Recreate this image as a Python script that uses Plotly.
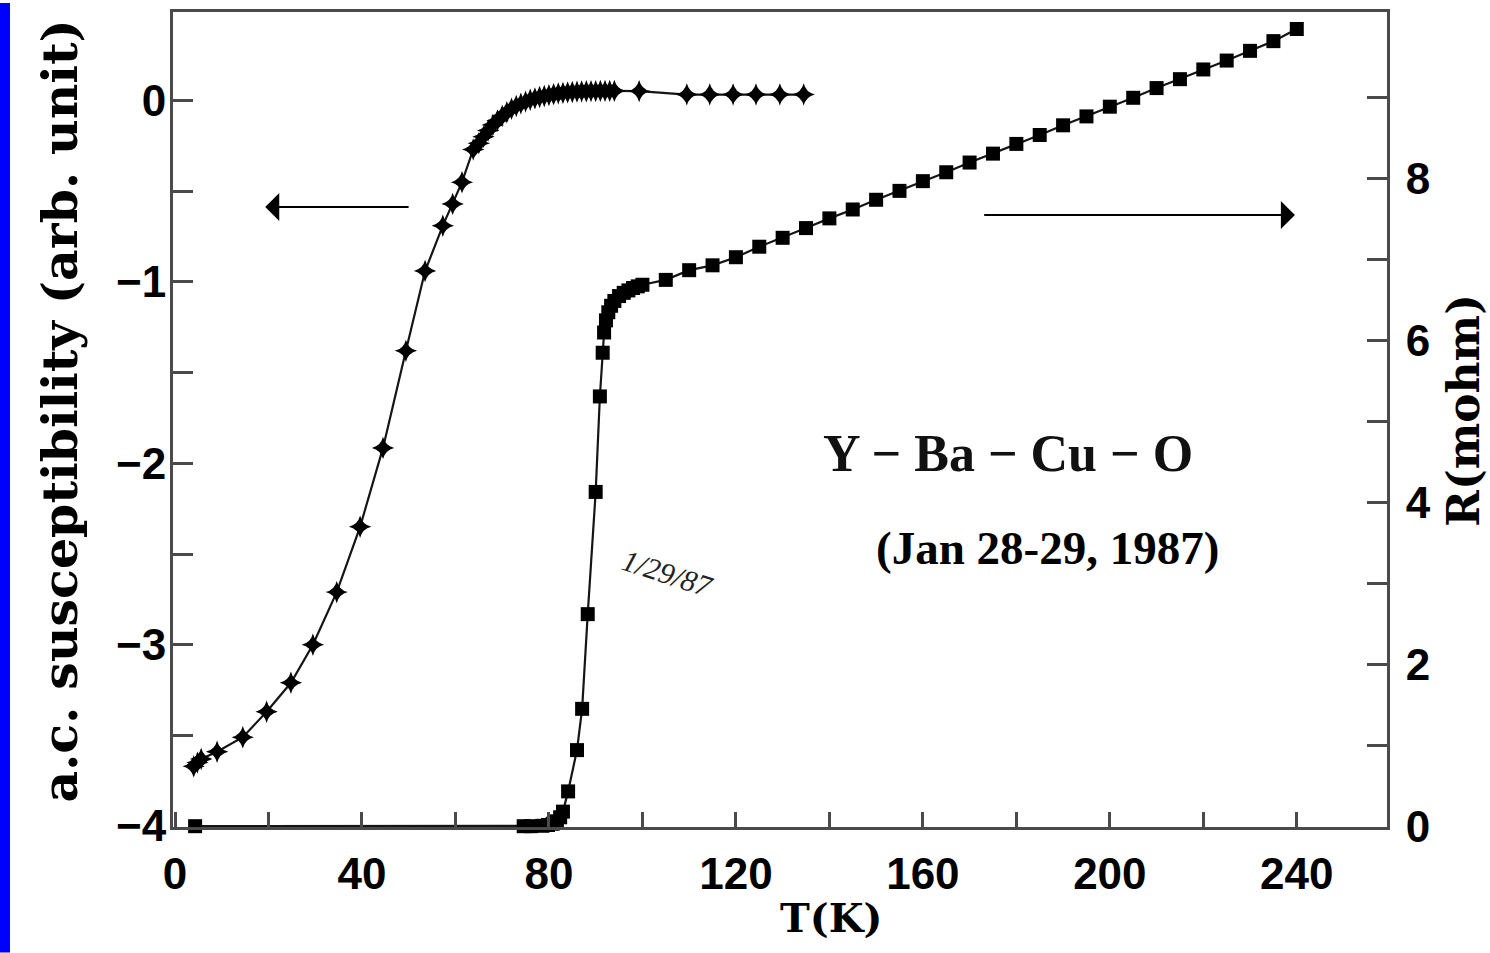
import plotly.graph_objects as go

# ---------------- data ----------------
# a.c. susceptibility (left axis), T in K
chi_T = [4.0, 4.8, 5.6, 9.0, 14.5, 19.6, 24.8, 29.5, 34.6, 39.6, 44.5, 49.4,
         53.5, 57.3, 59.4, 61.4, 63.8,
         65, 66, 67, 68, 69, 70, 71, 72, 73, 74, 75, 76, 77, 78, 79, 80,
         81, 82, 83, 84, 85, 86, 87, 88, 89, 90, 91, 92, 93, 94,
         99.3, 109.5, 114.4, 119.4, 124.3, 129.4, 134.5]
chi = [-3.67, -3.65, -3.63, -3.59, -3.51, -3.37, -3.21, -3.00, -2.71, -2.35, -1.915, -1.38,
       -0.94, -0.69, -0.57, -0.45, -0.27,
       -0.235, -0.20, -0.165, -0.135, -0.11, -0.085, -0.065, -0.045, -0.03, -0.017, -0.006, 0.004,
       0.012, 0.019, 0.025, 0.030,
       0.035, 0.039, 0.042, 0.045, 0.047, 0.049, 0.050, 0.051, 0.052, 0.052, 0.053, 0.053, 0.053, 0.053,
       0.052, 0.033, 0.033, 0.033, 0.033, 0.033, 0.033]

# resistance (right axis), T in K
res_T = [4.3, 74.6, 76.2, 78.6, 79.8, 80.8, 81.7, 82.4, 83.0, 84.1, 86.0, 87.1, 88.3,
         90.0, 90.9, 91.5, 91.8, 92.2, 92.7, 93.3, 94, 95, 96, 97, 98, 99, 100,
         105, 110, 115, 120, 125, 130, 135, 140, 145, 150, 155, 160, 165, 170,
         175, 180, 185, 190, 195, 200, 205, 210, 215, 220, 225, 230, 235, 240]
res = [0.0, 0.0, 0.0, 0.005, 0.015, 0.03, 0.06, 0.11, 0.18, 0.43, 0.94, 1.45, 2.62,
       4.13, 5.31, 5.85, 6.10, 6.25, 6.35, 6.43, 6.49, 6.55, 6.59, 6.62, 6.65, 6.67, 6.69,
       6.75, 6.87, 6.93, 7.03, 7.16, 7.27, 7.39, 7.51, 7.62, 7.74, 7.85, 7.97, 8.08, 8.20,
       8.31, 8.43, 8.54, 8.66, 8.77, 8.89, 9.00, 9.12, 9.23, 9.35, 9.46, 9.58, 9.70, 9.85]

x_ticks = [0, 40, 80, 120, 160, 200, 240]
x_minor = [20, 60, 100, 140, 180, 220]
yl_ticks = [-4, -3, -2, -1, 0]
yl_minor = [-3.5, -2.5, -1.5, -0.5]
yr_ticks = [0, 2, 4, 6, 8]
yr_minor = [1, 3, 5, 7, 9]

# ---------------- figure ----------------
AX = "#4a4a4a"
tickfont = dict(family="Liberation Sans", size=44, color="black", weight="bold")

fig = go.Figure()
fig.add_trace(go.Scatter(
    x=chi_T, y=chi, mode="lines+markers", yaxis="y", cliponaxis=False,
    line=dict(color="#151515", width=2.2),
    marker=dict(symbol="star-diamond", size=16, color="black"),
    showlegend=False))
fig.add_trace(go.Scatter(
    x=res_T, y=res, mode="lines+markers", yaxis="y2", cliponaxis=False,
    line=dict(color="#151515", width=2.2),
    marker=dict(symbol="square", size=14, color="black"),
    showlegend=False))

fig.update_layout(
    width=1490, height=953,
    margin=dict(l=173, r=103, t=9, b=126, pad=0),
    paper_bgcolor="white", plot_bgcolor="white",
    xaxis=dict(range=[-0.43, 259.3], tickvals=x_ticks, ticks="inside", ticklen=15,
               tickwidth=3, tickcolor=AX, showline=True, linecolor=AX, linewidth=3,
               mirror=True, showgrid=False, zeroline=False, tickfont=tickfont,
               ticklabelstandoff=6,
               minor=dict(tickvals=x_minor, ticks="inside", ticklen=15, tickwidth=3, tickcolor=AX)),
    yaxis=dict(range=[-4.005, 0.488], tickvals=yl_ticks, ticks="inside", ticklen=20,
               tickwidth=3, tickcolor=AX, showline=True, linecolor=AX, linewidth=3,
               showgrid=False, zeroline=False, tickfont=tickfont, ticklabelstandoff=-5,
               minor=dict(tickvals=yl_minor, ticks="inside", ticklen=20, tickwidth=3, tickcolor=AX)),
    yaxis2=dict(range=[-0.01, 10.06], tickvals=yr_ticks, ticks="inside", ticklen=20,
                tickwidth=3, tickcolor=AX, showline=True, linecolor=AX, linewidth=3,
                overlaying="y", side="right", showgrid=False, zeroline=False,
                tickfont=tickfont, ticklabelstandoff=7,
                minor=dict(tickvals=yr_minor, ticks="inside", ticklen=20, tickwidth=3, tickcolor=AX)),
)

ann = []
# axis titles
ann.append(dict(text="a.c. susceptibility (arb. unit)", xref="paper", yref="paper",
                x=-0.093, y=0.51, textangle=-90, showarrow=False,
                font=dict(family="DejaVu Serif", size=49, color="black", weight="bold"),
                xanchor="center", yanchor="middle"))
ann.append(dict(text="R(mohm)", xref="paper", yref="paper",
                x=1.0634, y=0.512, textangle=-90, showarrow=False,
                font=dict(family="DejaVu Serif", size=44, color="black", weight="bold"),
                xanchor="center", yanchor="middle"))
ann.append(dict(text="T(K)", xref="paper", yref="paper",
                x=0.542, y=-0.111, showarrow=False,
                font=dict(family="DejaVu Serif", size=40, color="black", weight="bold"),
                xanchor="center", yanchor="middle"))
# labels inside plot
ann.append(dict(text="Y − Ba − Cu − O", xref="x", yref="y", x=178.2, y=-1.948,
                showarrow=False,
                font=dict(family="Liberation Serif", size=52, color="#111", weight="bold")))
ann.append(dict(text="(Jan 28-29, 1987)", xref="x", yref="y", x=186.7, y=-2.469,
                showarrow=False,
                font=dict(family="Liberation Serif", size=47, color="black", weight="bold")))
ann.append(dict(text="<i>1/29/87</i>", xref="x", yref="y", x=105.5, y=-2.606,
                showarrow=False, textangle=18,
                font=dict(family="Liberation Serif", size=30, color="#222")))
# arrows
ann.append(dict(text="", xref="x", yref="y", x=19.3, y=-0.587, axref="x", ayref="y",
                ax=50.3, ay=-0.587, showarrow=True, arrowhead=1, arrowsize=2.6,
                arrowwidth=1.8, arrowcolor="black"))
ann.append(dict(text="", xref="x", yref="y", x=239.6, y=-0.631, axref="x", ayref="y",
                ax=172.8, ay=-0.631, showarrow=True, arrowhead=1, arrowsize=2.6,
                arrowwidth=1.8, arrowcolor="black"))
fig.update_layout(annotations=ann)

# blue strip at the left edge of the picture
fig.add_shape(type="rect", xref="paper", yref="paper",
              x0=-173 / 1214, x1=(10 - 173) / 1214, y0=-126 / 818, y1=1 + 9 / 818,
              fillcolor="#0000FF", line=dict(width=0), layer="above")

# the page's default 8px body margin would shift the figure; remove it
fig.write_html("out.html", config={"displayModeBar": False},
               post_script="document.body.style.margin='0';document.body.style.overflow='hidden';")
